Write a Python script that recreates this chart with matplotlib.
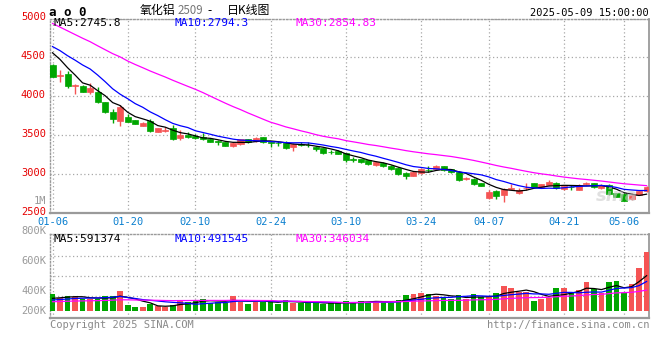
import matplotlib
matplotlib.use("Agg")
import matplotlib.pyplot as plt
import numpy as np
from matplotlib.transforms import ScaledTranslation

# ---------------- data ----------------
dates = (["01-06", "01-07", "01-08", "01-09", "01-10", "01-13", "01-14", "01-15", "01-16", "01-17",
          "01-20", "01-21", "01-22", "01-23", "01-24", "01-27",
          "02-05", "02-06", "02-07", "02-10", "02-11", "02-12", "02-13", "02-14",
          "02-17", "02-18", "02-19", "02-20", "02-21", "02-24", "02-25", "02-26", "02-27", "02-28",
          "03-03", "03-04", "03-05", "03-06", "03-07", "03-10", "03-11", "03-12", "03-13", "03-14",
          "03-17", "03-18", "03-19", "03-20", "03-21", "03-24", "03-25", "03-26", "03-27", "03-28",
          "03-31", "04-01", "04-02", "04-03", "04-07", "04-08", "04-09", "04-10", "04-11",
          "04-14", "04-15", "04-16", "04-17", "04-18", "04-21", "04-22", "04-23", "04-24", "04-25",
          "04-28", "04-29", "04-30", "05-06", "05-07", "05-08", "05-09"])

tick_dates = ["01-06", "01-20", "02-10", "02-24", "03-10", "03-24", "04-07", "04-21", "05-06"]

opens = [4403, 4265, 4288, 4135, 4140, 4062, 4062, 3925, 3805, 3690,
         3740, 3695, 3625, 3683, 3548, 3560, 3600, 3465, 3505, 3490,
         3475, 3450, 3425, 3410, 3365, 3387, 3448, 3425, 3475, 3413,
         3405, 3400, 3350, 3385, 3382, 3355, 3333, 3290, 3305, 3270,
         3195, 3197, 3185, 3118, 3150, 3110, 3085, 3020, 2985, 3015,
         3057, 3068, 3105, 3064, 3035, 2945, 2935, 2885, 2692, 2787,
         2735, 2818, 2757, 2820, 2885, 2834, 2863, 2893, 2808, 2838,
         2799, 2880, 2885, 2822, 2864, 2757, 2748, 2680, 2740, 2780]
highs = [4410, 4339, 4330, 4165, 4145, 4170, 4127, 3930, 3838, 3890,
         3770, 3700, 3675, 3705, 3600, 3605, 3630, 3570, 3545, 3520,
         3530, 3460, 3440, 3415, 3410, 3455, 3455, 3480, 3480, 3420,
         3430, 3430, 3400, 3410, 3410, 3360, 3340, 3315, 3310, 3275,
         3225, 3200, 3190, 3165, 3155, 3115, 3090, 3025, 3040, 3085,
         3110, 3115, 3110, 3070, 3040, 2960, 2955, 2890, 2800, 2805,
         2830, 2880, 2830, 2890, 2890, 2880, 2925, 2900, 2855, 2860,
         2870, 2900, 2890, 2870, 2870, 2760, 2755, 2760, 2790, 2850]
lows = [4250, 4188, 4105, 4025, 4055, 4030, 3920, 3782, 3661, 3620,
        3670, 3640, 3620, 3538, 3540, 3545, 3445, 3440, 3465, 3455,
        3445, 3410, 3380, 3360, 3355, 3380, 3405, 3420, 3408, 3345,
        3370, 3320, 3300, 3370, 3345, 3295, 3265, 3255, 3255, 3160,
        3160, 3145, 3125, 3110, 3095, 3060, 2995, 2935, 2980, 3000,
        3030, 3060, 3048, 3020, 2920, 2925, 2865, 2845, 2680, 2680,
        2650, 2810, 2745, 2800, 2838, 2830, 2858, 2815, 2800, 2800,
        2795, 2860, 2830, 2815, 2740, 2705, 2655, 2670, 2730, 2770]
closes = [4253, 4275, 4130, 4150, 4062, 4105, 3925, 3805, 3707, 3870,
          3676, 3645, 3662, 3555, 3590, 3575, 3450, 3505, 3475, 3460,
          3450, 3420, 3415, 3370, 3400, 3448, 3413, 3470, 3413, 3400,
          3400, 3342, 3390, 3380, 3378, 3320, 3270, 3285, 3260, 3182,
          3190, 3153, 3130, 3160, 3105, 3065, 3000, 2985, 3030, 3070,
          3053, 3110, 3053, 3025, 2925, 2950, 2870, 2850, 2770, 2722,
          2810, 2825, 2800, 2825, 2842, 2876, 2906, 2821, 2850, 2834,
          2864, 2886, 2834, 2864, 2748, 2713, 2662, 2740, 2780, 2834]
# closes of the 29 sessions before the window (for moving averages)
pre_closes = [5690, 5560, 5580, 5480, 5440, 5500, 5320, 5220, 5130, 5260,
              4980, 4900, 4830, 4760, 4720, 4700, 4680, 4640, 4600, 4710,
              4800, 4780, 4720, 4680, 4620, 4700, 4660, 4620, 4567]

volumes = [284, 222, 256, 228, 200, 200, 195, 256, 256, 334,
           100, 67, 67, 112, 84, 67, 100, 184, 156, 184,
           200, 139, 156, 139, 256, 156, 117, 156, 156, 184,
           117, 184, 139, 128, 145, 145, 117, 128, 128, 172,
           128, 172, 156, 172, 156, 128, 184, 267, 284, 306,
           289, 256, 217, 195, 267, 195, 284, 228, 228, 301,
           420, 390, 312, 323, 172, 195, 222, 390, 384, 296,
           351, 484, 362, 296, 484, 501, 296, 451, 720, 980]  # thousands
pre_volumes = [120, 130, 110, 140, 125, 135, 150, 120, 145, 130,
               140, 155, 135, 150, 160, 145, 150, 140, 160, 170,
               150, 165, 140, 160, 165, 180, 200, 190, 206]

price_labels = ["MA5:2745.8", "MA10:2794.3", "MA30:2854.83"]
vol_labels = ["MA5:591374", "MA10:491545", "MA30:346034"]

# ---------------- helpers ----------------
W, H = 660, 360
RED = "#f55454"
GREEN = "#00a600"
GRID = "#a8a8a8"
BORDER = "#9a9a9a"
MONO = "DejaVu Sans Mono"

def rect(l, t, r, b):
    return [l / W, 1 - b / H, (r - l) / W, (b - t) / H]

def ftext(x, y, s, **kw):
    return fig.text(x / W, 1 - y / H, s, **kw)

def ma(seq, n):
    a = np.asarray(seq, dtype=float)
    return np.convolve(a, np.ones(n) / n, mode="valid")

n = len(closes)
x = np.arange(n)
o = np.array(opens, float); c = np.array(closes, float)
h = np.array(highs, float); l = np.array(lows, float)
up = c >= o
cols = [RED if u else GREEN for u in up]

allc = pre_closes + closes
ma5 = ma(allc, 5)[-n:]
ma10 = ma(allc, 10)[-n:]
ma30 = ma(allc, 30)[-n:]

v = np.array(volumes, float) * 1000
allv = [p * 1000 for p in pre_volumes] + list(v)
vma5 = ma(allv, 5)[-n:]
vma10 = ma(allv, 10)[-n:]
vma30 = ma(allv, 30)[-n:]

# ---------------- figure ----------------
fig = plt.figure(figsize=(6.6, 3.6), dpi=100)
fig.patch.set_facecolor("white")

ax = fig.add_axes(rect(50, 18.5, 649, 213.3))
axv = fig.add_axes(rect(50, 234, 649, 318), sharex=ax)

px_per_unit = 7.52
xl = (50 - 52.5) / px_per_unit
xr = (649 - 52.5) / px_per_unit
ax.set_xlim(xl, xr)

# candles
body_bottom = np.minimum(o, c)
body_h = np.maximum(np.abs(c - o), 3)
ax.vlines(x, l, h, colors=cols, linewidth=1.0, zorder=3)
ax.bar(x, body_h, bottom=body_bottom, width=0.8, color=cols, edgecolor=cols,
       linewidth=0.5, zorder=4)
ax.plot(x, ma5, color="black", lw=0.9, zorder=5)
ax.plot(x, ma10, color="#0000ff", lw=0.9, zorder=5)
ax.plot(x, ma30, color="#ff00ff", lw=0.9, zorder=5)

ax.set_ylim(2500, 5000)
ax.set_yticks([2500, 3000, 3500, 4000, 4500, 5000])
ax.set_yticklabels(["2500", "3000", "3500", "4000", "4500", "5000"],
                   fontfamily=MONO, fontsize=7.5, color="#e60000")
ax.tick_params(axis="y", length=0, pad=3)
for lab in ax.get_yticklabels():
    lab.set_transform(lab.get_transform() + ScaledTranslation(0, 2 / 100, fig.dpi_scale_trans))

tick_idx = [dates.index(d) for d in tick_dates]
ax.set_xticks(tick_idx)
ax.set_xticklabels(tick_dates, fontfamily=MONO, fontsize=7.5, color="#0a7fcf")
ax.tick_params(axis="x", length=0, pad=2.5)

for a in (ax, axv):
    a.grid(True, which="major", axis="x", color=GRID, linestyle=(0, (1, 2)), linewidth=0.9)
    a.set_axisbelow(True)
    for side in ("left", "top"):
        a.spines[side].set_color(BORDER)
        a.spines[side].set_linestyle((0, (1, 1.5)))
        a.spines[side].set_linewidth(1.0)
    a.spines["right"].set_color(BORDER)
    a.spines["right"].set_linewidth(1.3)
    a.spines["bottom"].set_color(BORDER)
    a.spines["bottom"].set_linewidth(1.6)
ax.grid(True, which="major", axis="y", color=GRID, linestyle=(0, (1, 2)), linewidth=0.9)

# volume
vpp = 16700.0  # volume per pixel
axv.set_ylim(-7 * vpp, 77 * vpp)
axv.bar(x, v, width=0.76, color=cols, linewidth=0, zorder=3)
axv.plot(x, vma5, color="black", lw=0.9, zorder=5)
axv.plot(x, vma10, color="#0000ff", lw=0.9, zorder=5)
axv.plot(x, vma30, color="#ff00ff", lw=0.9, zorder=5)
axv.set_yticks(np.array([15.3, 35.3, 55.3]) * vpp)
axv.set_yticklabels([])
axv.tick_params(axis="y", length=0)
axv.tick_params(axis="x", length=0, labelbottom=False)
axv.grid(True, which="major", axis="y", color=GRID, linestyle=(0, (1, 2)), linewidth=0.9)

# axis-side texts
for s, yy in zip(["800K", "600K", "400K", "200K"], [231, 261, 291, 311]):
    ftext(46.5, yy, s, ha="right", va="center", fontfamily=MONO, fontsize=7.5, color="#9a9a9a")
ftext(46.5, 200.5, "1M", ha="right", va="center", fontfamily=MONO, fontsize=7.5, color="#9a9a9a")

# MA legends
mcols = ["black", "#0000ff", "#ff00ff"]
for s, xx, cc in zip(price_labels, [54, 174.5, 295], mcols):
    ftext(xx, 23.5, s, ha="left", va="center", fontfamily=MONO, fontsize=8, color=cc)
for s, xx, cc in zip(vol_labels, [54, 174.5, 295], mcols):
    ftext(xx, 238.5, s, ha="left", va="center", fontfamily=MONO, fontsize=8, color=cc)

# header
ftext(49, 12, "a o 0", ha="left", va="center", fontfamily=MONO, fontsize=9,
      fontweight="bold", color="black")
CJK = ["Noto Sans CJK SC", "DejaVu Sans"]
ftext(140, 10.5, "氧化铝", ha="left", va="center", family=CJK, fontsize=8.6, color="black")
ftext(177.5, 11, "2509", ha="left", va="center", family=CJK, fontsize=8.3, color="#777777")
ftext(207, 10.5, "-", ha="left", va="center", family=CJK, fontsize=8.6, color="black")
ftext(227, 10.5, "日K线图", ha="left", va="center", family=CJK, fontsize=8.6, color="black")
ftext(649, 12.5, "2025-05-09 15:00:00", ha="right", va="center", fontfamily=MONO,
      fontsize=7.5, color="black")

# footer
ftext(50, 324.5, "Copyright 2025 SINA.COM", ha="left", va="center", fontfamily=MONO,
      fontsize=7.5, color="#8a8a8a")
ftext(649, 324.5, "http://finance.sina.com.cn", ha="right", va="center", fontfamily=MONO,
      fontsize=7.5, color="#8a8a8a")

# watermark
ftext(617, 196, "sina", ha="center", va="center", fontsize=13, fontstyle="italic",
      fontweight="bold", color="#cccccc", alpha=0.6, zorder=0)

fig.savefig("out.png", dpi=100, facecolor="white")
